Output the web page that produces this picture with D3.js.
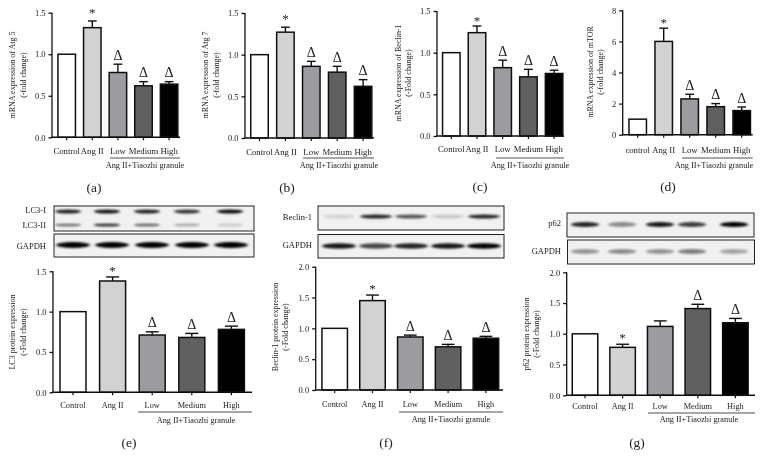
<!DOCTYPE html>
<html><head><meta charset="utf-8">
<script src="https://cdn.jsdelivr.net/npm/d3@7/dist/d3.min.js"></script>
<style>html,body{margin:0;padding:0;background:#fff}svg{display:block}text{font-family:"Liberation Serif",serif;fill:#222}</style>
</head><body><svg id="c" width="764" height="470"></svg>
<script>
// ---- data ----
const catsCap = ["Control","Ang II","Low","Medium","High"];
const catsLow = ["control","Ang II","Low","Medium","High"];
const groupLabel = "Ang II+Tiaozhi granule";
const fills = ["#ffffff","#d2d2d2","#9c9ca0","#606060","#000000"];

const atg5Vals = [1,1.32,0.78,0.62,0.64];   const atg5Tops = [null,1.40,0.88,0.67,0.67];
const atg7Vals = [1,1.27,0.86,0.79,0.62];   const atg7Tops = [null,1.33,0.92,0.86,0.70];
const beclinVals = [1,1.24,0.82,0.71,0.75]; const beclinTops = [null,1.32,0.91,0.80,0.79];
const mtorVals = [1,6.0,2.3,1.8,1.55];      const mtorTops = [null,6.85,2.6,2.0,1.78];
const lc3Vals = [1,1.38,0.71,0.68,0.78];    const lc3Tops = [null,1.43,0.75,0.73,0.82];
const becProtVals = [1,1.45,0.86,0.70,0.84];const becProtTops = [null,1.54,0.89,0.74,0.87];
const p62Vals = [1,0.78,1.12,1.41,1.18];    const p62Tops = [null,0.83,1.21,1.48,1.25];

const marksStd = ["","*","Δ","Δ","Δ"];
const marksP62 = ["","*","","Δ","Δ"];
const ticks15 = [0,0.5,1.0,1.5];
const ticks20 = [0,0.5,1.0,1.5,2.0];
const ticks8 = [0,2,4,6,8];

// band strength per lane
const lc3I = [0.85,0.9,0.85,0.78,0.95];
const lc3II = [0.5,0.78,0.55,0.28,0.16];
const gapdhE = [1,1,1,1,1];
const beclinBand = [0.12,0.85,0.65,0.16,0.85];
const gapdhF = [0.9,0.7,0.85,0.9,1];
const p62Band = [0.85,0.42,0.9,0.75,1];
const gapdhG = [0.38,0.42,0.38,0.48,0.32];

// ---- layout ----
const panels = [
 {tag:"(a)",vals:atg5Vals,tops:atg5Tops,cats:catsCap,marks:marksStd,ticks:ticks15,fmt:".1f",max:1.5,t:["mRNA expression of Atg 5","(-fold change)"],ax:52,end:180,top:12.7,bot:137.3,c0:66.7,step:25.6,bw:17.5,tagX:94,tagY:192,tx:[15,25.5],ty:75,lx0:110,ly:158,gx:145,cd:16.7,gd:10,sd:4,cf:8.7},
 {tag:"(b)",vals:atg7Vals,tops:atg7Tops,cats:catsCap,marks:marksStd,ticks:ticks15,fmt:".1f",max:1.5,t:["mRNA expression of Atg 7","(-fold change)"],ax:245,end:374,top:13,bot:138,c0:259.5,step:25.9,bw:17.5,tagX:287,tagY:192,tx:[208,219],ty:75,lx0:303,ly:158,gx:339,cd:16.5,gd:10,sd:4,cf:8.7},
 {tag:"(c)",vals:beclinVals,tops:beclinTops,cats:catsCap,marks:marksStd,ticks:ticks15,fmt:".1f",max:1.5,t:["mRNA expression of Beclin-1","(-Fold change)"],ax:437,end:564,top:11,bot:136,c0:451.3,step:25.7,bw:17.5,tagX:480,tagY:191,tx:[401,411],ty:73,lx0:496,ly:158,gx:530,cd:16.3,gd:10,sd:1.5,cf:8.7},
 {tag:"(d)",vals:mtorVals,tops:mtorTops,cats:catsLow,marks:marksStd,ticks:ticks8,fmt:"d",max:8,t:["mRNA expression of mTOR","(-fold change)"],ax:622.7,end:752.7,top:10.3,bot:134.7,c0:637.7,step:26,bw:17.5,tagX:668,tagY:191,tx:[593,603],ty:72,lx0:682,ly:158,gx:714,cd:18,gd:10,sd:1,cf:8.7},
 {tag:"(e)",vals:lc3Vals,tops:lc3Tops,cats:catsCap,marks:marksStd,ticks:ticks15,fmt:".1f",max:1.5,t:["LC3 protein expression","(-Fold change)"],ax:53,end:252,top:271.3,bot:392.3,c0:73,step:39.6,bw:26,tagX:129,tagY:447,tx:[15,26],ty:332,lx0:138,ly:412,gx:196,cd:15.5,gd:10.7,sd:1.5,cf:8.3},
 {tag:"(f)",vals:becProtVals,tops:becProtTops,cats:catsCap,marks:marksStd,ticks:ticks20,fmt:".1f",max:2,t:["Beclin-1 protein expression","(-Fold change)"],ax:315.7,end:503,top:266.7,bot:390,c0:334.7,step:37.8,bw:25.5,tagX:386,tagY:447,tx:[278,288],ty:327,lx0:399,ly:412,gx:451,cd:16.7,gd:10,sd:2,cf:8.3},
 {tag:"(g)",vals:p62Vals,tops:p62Tops,cats:catsCap,marks:marksP62,ticks:ticks20,fmt:".1f",max:2,t:["p62 protein expression","(-Fold change)"],ax:566.7,end:755,top:272.3,bot:395.3,c0:585,step:37.6,bw:25.5,tagX:637,tagY:447,tx:[529,539],ty:334,lx0:648,ly:413,gx:699,cd:14,gd:9,sd:2,cf:8.3}
];
const blots = [
 {x0:54,x1:254,y0:206,y1:231,label:["LC3-I","LC3-II"],lx:46,lanes:[68,107,147,187,230],rx:13,rows:[{s:lc3I,y:211.5,ry:2,ly:212.5},{s:lc3II,y:225,ry:1.6,ly:228}]},
 {x0:54,x1:254,y0:234,y1:257,label:["GAPDH"],lx:46,lanes:[73,112,152,192,231],rx:17,rows:[{s:gapdhE,y:245,ry:2.9,ly:249}]},
 {x0:318,x1:504,y0:206,y1:230,label:["Beclin-1"],lx:312,lanes:[339,376,411,448,484],rx:16,rows:[{s:beclinBand,y:216.5,ry:2,ly:220}]},
 {x0:318,x1:504,y0:234.5,y1:258,label:["GAPDH"],lx:312,lanes:[339,376,411,448,484],rx:17,rows:[{s:gapdhF,y:246,ry:2.8,ly:248}]},
 {x0:567,x1:754,y0:213,y1:237,label:["p62"],lx:561,lanes:[585,622,660,692,734],rx:14,rows:[{s:p62Band,y:224.5,ry:2.6,ly:226}]},
 {x0:567.5,x1:754.5,y0:240,y1:264,label:["GAPDH"],lx:561,lanes:[585,622,660,692,734],rx:14,rows:[{s:gapdhG,y:251.5,ry:2.6,ly:254}]}
];
const fs = 8.5, titleFs = 8, groupFs = 8.3;

const svg = d3.select("#c");
const defs = svg.append("defs");
defs.append("filter").attr("id","blur").attr("x","-30%").attr("y","-150%").attr("width","160%").attr("height","400%")
  .append("feGaussianBlur").attr("stdDeviation","1.6 1");
defs.append("filter").attr("id","soft").attr("filterUnits","userSpaceOnUse").attr("x",0).attr("y",0).attr("width",764).attr("height",470)
  .append("feGaussianBlur").attr("stdDeviation",0.35);
const root = svg.append("g").attr("filter","url(#soft)");
root.append("rect").attr("width",764).attr("height",470).attr("fill","#fff");

// ---- blots ----
blots.forEach(b=>{
  const g = root.append("g");
  const cp = ("clip"+b.x0+"_"+b.y0).replace(/\./g,"_");
  defs.append("clipPath").attr("id",cp).append("rect")
    .attr("x",b.x0).attr("y",b.y0).attr("width",b.x1-b.x0).attr("height",b.y1-b.y0);
  g.append("rect").attr("x",b.x0).attr("y",b.y0).attr("width",b.x1-b.x0).attr("height",b.y1-b.y0).attr("fill","#f1f1f1");
  const inner = g.append("g").attr("clip-path",`url(#${cp})`);
  b.rows.forEach(r=>{
    inner.selectAll(null).data(r.s).join("ellipse")
      .attr("cx",(d,i)=>b.lanes[i]).attr("cy",r.y).attr("rx",b.rx).attr("ry",r.ry)
      .attr("fill","#000").attr("opacity",d=>d).attr("filter","url(#blur)");
  });
  g.append("rect").attr("x",b.x0).attr("y",b.y0).attr("width",b.x1-b.x0).attr("height",b.y1-b.y0)
    .attr("fill","none").attr("stroke","#222").attr("stroke-width",1);
  b.label.forEach((t,i)=>{
    root.append("text").attr("x",b.lx).attr("y",b.rows[i].ly).attr("text-anchor","end").attr("font-size",fs).text(t);
  });
});

// ---- bar panels ----
panels.forEach(p=>{
  const g = root.append("g");
  const y = d3.scaleLinear().domain([0,p.max]).range([p.bot,p.top]);
  const x = d3.scaleLinear().domain([0,4]).range([p.c0,p.c0+4*p.step]);
  const yAxis = d3.axisLeft(y).tickValues(p.ticks).tickFormat(d3.format(p.fmt)).tickSize(3.5).tickPadding(3);
  const ag = g.append("g").attr("transform",`translate(${p.ax},0)`).call(yAxis);
  ag.selectAll("path,line").attr("stroke","#111").attr("stroke-width",1.3);
  ag.select(".domain").attr("d",`M0,${p.top}V${p.bot}`);
  ag.selectAll("text").attr("font-size",fs).attr("font-family","Liberation Serif").attr("fill","#222");

  // error bars
  p.tops.forEach((top,i)=>{
    if(top==null) return;
    g.append("line").attr("x1",x(i)).attr("x2",x(i)).attr("y1",y(p.vals[i])).attr("y2",y(top)).attr("stroke","#111").attr("stroke-width",1.4);
    g.append("line").attr("x1",x(i)-p.bw*0.25).attr("x2",x(i)+p.bw*0.25).attr("y1",y(top)).attr("y2",y(top)).attr("stroke","#111").attr("stroke-width",1.4);
  });
  // bars
  g.selectAll("rect.bar").data(p.vals).join("rect").attr("class","bar")
    .attr("x",(d,i)=>x(i)-p.bw/2).attr("width",p.bw)
    .attr("y",d=>y(d)).attr("height",d=>p.bot-y(d))
    .attr("fill",(d,i)=>fills[i]).attr("stroke","#111").attr("stroke-width",1.5);
  // x axis
  g.append("line").attr("x1",p.ax-0.6).attr("x2",p.end).attr("y1",p.bot).attr("y2",p.bot).attr("stroke","#111").attr("stroke-width",1.4);
  g.selectAll("line.xt").data(p.vals).join("line").attr("class","xt")
    .attr("x1",(d,i)=>x(i)).attr("x2",(d,i)=>x(i)).attr("y1",p.bot).attr("y2",p.bot+3).attr("stroke","#111").attr("stroke-width",1.2);
  // category labels
  g.selectAll("text.cat").data(p.cats).join("text").attr("class","cat")
    .attr("x",(d,i)=>x(i)).attr("y",p.bot+p.cd).attr("text-anchor","middle").attr("font-size",p.cf).text(d=>d);
  // group line
  g.append("line").attr("x1",p.lx0).attr("x2",p.end).attr("y1",p.ly).attr("y2",p.ly).attr("stroke","#222").attr("stroke-width",0.8);
  g.append("text").attr("x",p.gx).attr("y",p.ly+p.gd).attr("text-anchor","middle").attr("font-size",groupFs).text(groupLabel);
  // y title
  p.t.forEach((t,i)=>{
    g.append("text").attr("transform",`translate(${p.tx[i]},${p.ty}) rotate(-90)`).attr("text-anchor","middle").attr("font-size",titleFs).text(t);
  });
  // significance marks
  p.marks.forEach((m,i)=>{
    if(!m) return;
    const t = p.tops[i];
    g.append("text").attr("x",x(i)).attr("y",m==="*"? y(t)-p.sd : y(t)-4.5)
      .attr("text-anchor","middle").attr("font-size",m==="*"?13:14).attr("fill","#111").text(m);
  });
  // panel tag
  g.append("text").attr("x",p.tagX).attr("y",p.tagY).attr("text-anchor","middle").attr("font-size",13.5).text(p.tag);
});
</script></body></html>
